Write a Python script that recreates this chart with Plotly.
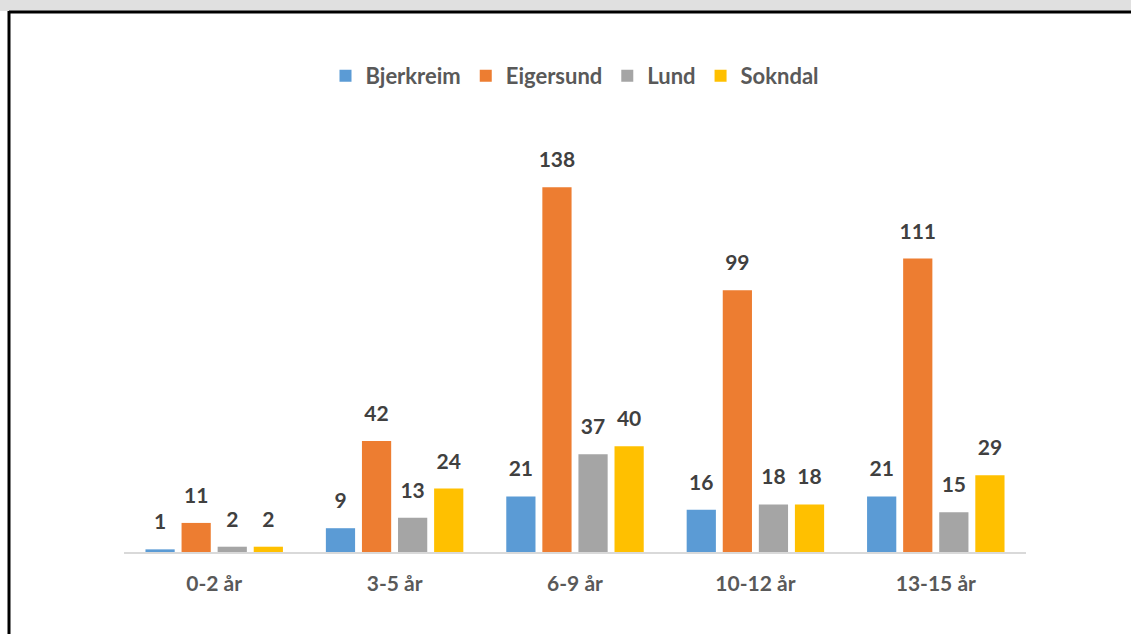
import plotly.graph_objects as go

categories = ["0-2 år", "3-5 år", "6-9 år", "10-12 år", "13-15 år"]
series_names = ["Bjerkreim", "Eigersund", "Lund", "Sokndal"]
bjerkreim = [1, 9, 21, 16, 21]
eigersund = [11, 42, 138, 99, 111]
lund = [2, 13, 37, 18, 15]
sokndal = [2, 24, 40, 18, 29]
colors = ["#5B9BD5", "#ED7D31", "#A5A5A5", "#FFC000"]

W, H = 1131, 634
L, R, T, B = 124, 105, 129, 82
pw, ph = W - L - R, H - T - B

def px_x(x):
    return (x - L) / pw

def px_y(y):
    return (H - B - y) / ph

fig = go.Figure()
for name, vals, col in zip(series_names, [bjerkreim, eigersund, lund, sokndal], colors):
    fig.add_trace(go.Bar(
        x=categories, y=vals, name=f"<b>{name}</b>", marker_color=col,
        marker_line_width=0, offsetgroup=name, hoverinfo="skip",
    ))
for name, vals in zip(series_names, [bjerkreim, eigersund, lund, sokndal]):
    fig.add_trace(go.Scatter(
        x=categories, y=vals, mode="markers+text", offsetgroup=name,
        text=[f"<b>{v}</b>" for v in vals], textposition="top center",
        textfont=dict(family="Lato", size=21, color="#404040"),
        marker=dict(size=22, opacity=0), showlegend=False, hoverinfo="skip",
        cliponaxis=False,
    ))

fig.update_layout(
    width=W, height=H,
    margin=dict(l=L, r=R, t=T, b=B),
    paper_bgcolor="white", plot_bgcolor="white",
    barmode="group", bargap=0.2, bargroupgap=0.19,
    scattermode="group", scattergap=0.2,
    showlegend=True,
    legend=dict(orientation="h", x=0.5, xanchor="center", y=px_y(76), yanchor="middle",
                font=dict(family="Lato", size=22, color="#595959"),
                itemwidth=30, tracegroupgap=0,
                itemclick=False, itemdoubleclick=False),
    font=dict(family="Lato", size=20, color="#595959"),
    xaxis=dict(showgrid=False, showline=True, linecolor="#D9D9D9", linewidth=2,
               ticks="", tickfont=dict(family="Lato", size=21, color="#595959"),
               tickvals=categories, ticktext=[f"<b>{c}</b>" for c in categories],
               ticklabelstandoff=12, fixedrange=True),
    yaxis=dict(range=[0, 160], visible=False, showgrid=False, zeroline=False, fixedrange=True),
    shapes=[
        dict(type="rect", xref="paper", yref="paper", x0=px_x(0), x1=px_x(W), y0=px_y(0), y1=px_y(11),
             fillcolor="#E0E0E0", line_width=0, layer="below"),
        dict(type="line", xref="paper", yref="paper", x0=px_x(9), x1=px_x(W), y0=px_y(12), y1=px_y(12),
             line=dict(color="black", width=3)),
        dict(type="line", xref="paper", yref="paper", x0=px_x(9), x1=px_x(9), y0=px_y(11), y1=px_y(H),
             line=dict(color="black", width=3)),
    ],
)
fig.write_html("out.html", config={"displayModeBar": False},
               post_script="document.body.style.margin='0';document.body.style.overflow='hidden';")
